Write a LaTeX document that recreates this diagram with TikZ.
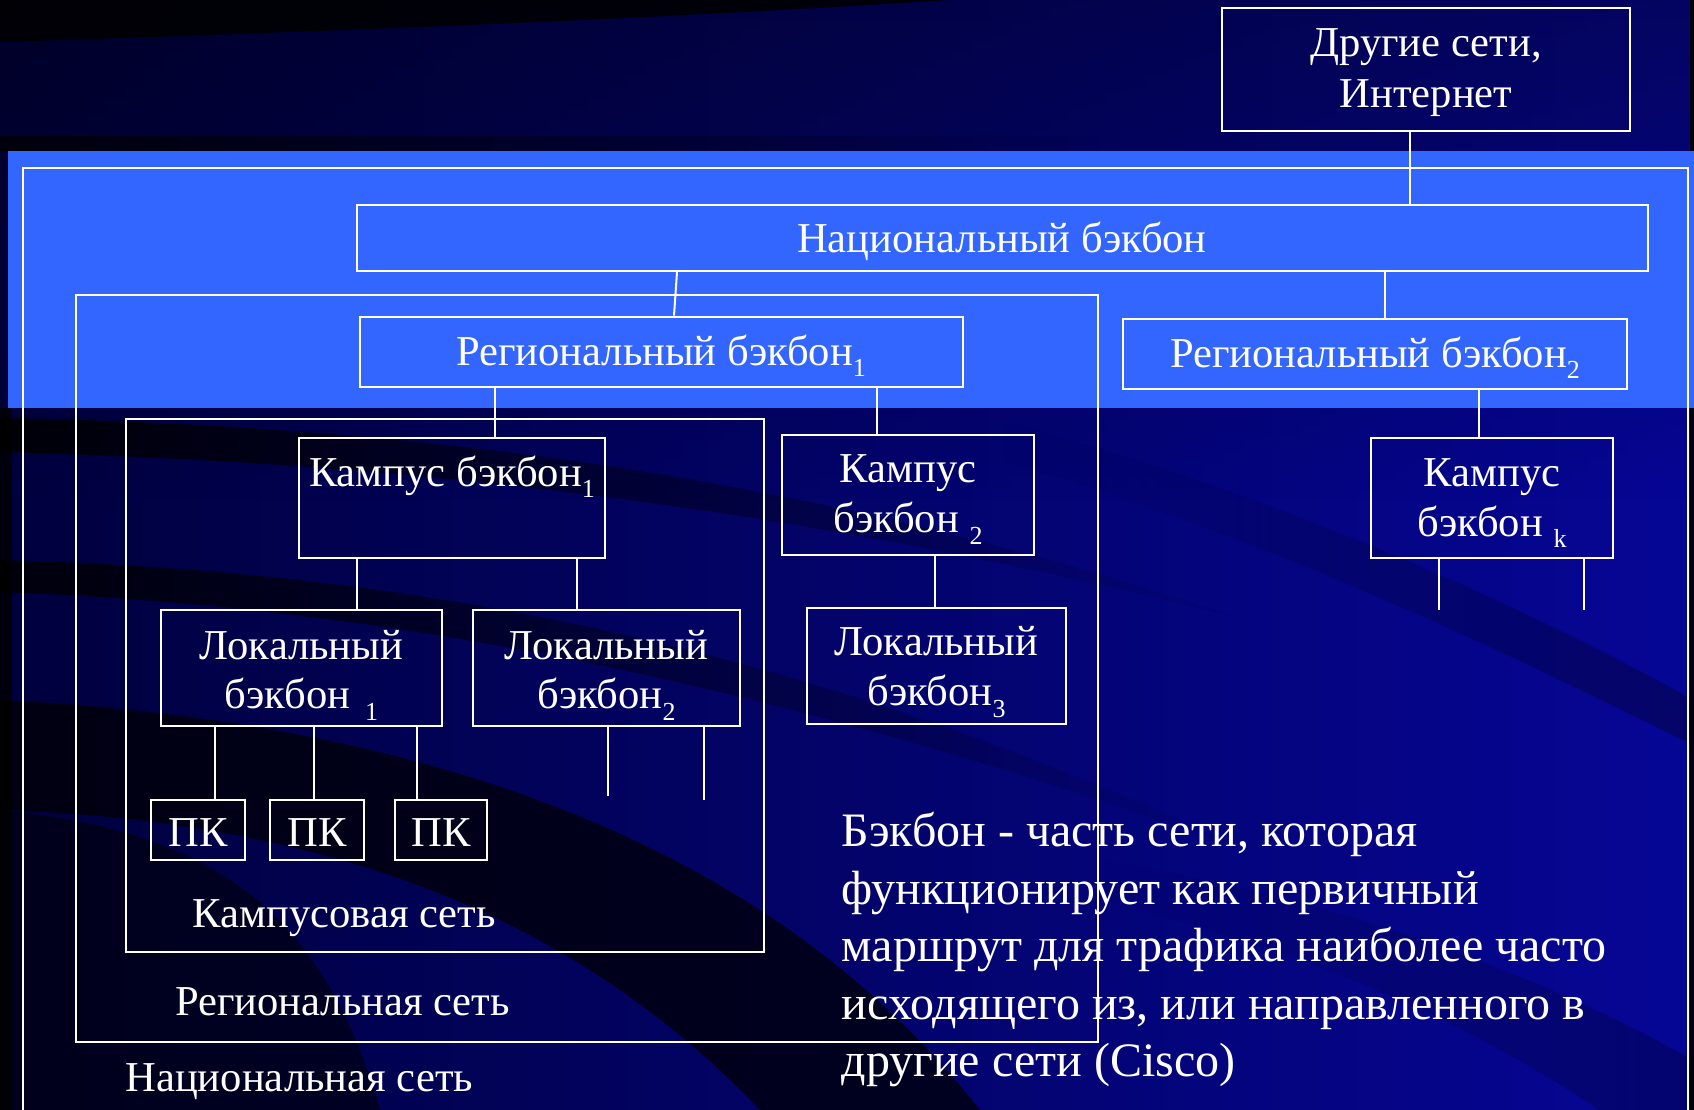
\documentclass[tikz,border=0pt]{standalone}
\usepackage{fontspec}
\setmainfont{Liberation Serif}
\usetikzlibrary{fadings}
\definecolor{bgdark}{RGB}{0,0,62}
\definecolor{bgright}{RGB}{6,6,150}
\definecolor{bandblue}{RGB}{51,102,255}
\newcommand\sbx[1]{\raisebox{-0.28em}{\fontsize{26}{26}\selectfont #1}}
\begin{document}
\begin{tikzpicture}[x=1pt,y=-1pt,
  box/.style={draw=white, line width=2pt, inner sep=0pt},
  cont/.style={draw=white, line width=2pt},
  conn/.style={draw=white, line width=2pt},
  txt/.style={text=white, inner sep=0pt, anchor=base, font=\fontsize{42.6}{48}\selectfont},
  lbl/.style={text=white, inner sep=0pt, anchor=base west, font=\fontsize{42.6}{48}\selectfont},
  para/.style={text=white, inner sep=0pt, anchor=base west, font=\fontsize{48}{57}\selectfont}]
% background
\useasboundingbox (0,0) rectangle (1694,1110);
\shade[left color=bgdark, right color=bgright] (0,0) rectangle (1694,1110);
\fill[black, opacity=0.35, path fading=south] (0,0) rectangle (1694,500);
\fill[black, opacity=0.85] (0,0) -- (950,0) .. controls (600,22) and (300,32) .. (0,42) -- cycle;
\fill[black, opacity=0.7, path fading=east] (0,136) rectangle (1100,151);
\fill[black, opacity=0.85, path fading=east] (0,418) .. controls (400,425) and (800,470) .. (1250,620)
   .. controls (800,505) and (400,462) .. (0,452) -- cycle;
\fill[black, opacity=0.8, path fading=east] (0,560) .. controls (400,570) and (800,640) .. (1250,850)
   .. controls (800,690) and (400,605) .. (0,592) -- cycle;
\fill[black, opacity=0.7] (0,700) .. controls (400,720) and (760,830) .. (980,1110)
   -- (760,1110) .. controls (560,900) and (300,820) .. (0,810) -- cycle;
\fill[black, opacity=0.55] (0,810) .. controls (200,830) and (320,900) .. (380,1110) -- (0,1110) -- cycle;
\fill[black, opacity=0.8] (0,408) rectangle (12,1110);
\fill[black, opacity=0.3, path fading=west] (1000,420) .. controls (1300,500) and (1550,620) .. (1694,700)
   -- (1694,745) .. controls (1520,660) and (1280,540) .. (1000,460) -- cycle;
\fill[black, opacity=0.25, path fading=west] (1100,860) .. controls (1350,900) and (1550,980) .. (1694,1060)
   -- (1694,1110) -- (1600,1110) .. controls (1450,1010) and (1300,950) .. (1100,900) -- cycle;
\fill[black, opacity=0.9] (1690,0) rectangle (1694,1110);
% light band
\fill[bandblue] (7.5,151) rectangle (1694,408);
% containers
\draw[cont] (22.7,1115) -- (22.7,168.5) -- (1687.6,168.5) -- (1687.6,1115);
\draw[cont] (75.6,295) rectangle (1097.7,1041.5);
\draw[cont] (126.4,419) rectangle (763.8,951.8);
% boxes
\node[box, minimum width=408pt, minimum height=123pt] (other) at (1426,70) {};
\node[box, minimum width=1291pt, minimum height=66pt] (nat) at (1002,238) {};
\node[box, minimum width=603pt, minimum height=70pt] (reg1) at (661,351.6) {};
\node[box, minimum width=504.5pt, minimum height=70pt] (reg2) at (1375,354) {};
\node[box, minimum width=306pt, minimum height=120pt] (camp1) at (452,497.5) {};
\node[box, minimum width=252pt, minimum height=120pt] (camp2) at (908,495) {};
\node[box, minimum width=242pt, minimum height=120pt] (campk) at (1492,497.5) {};
\node[box, minimum width=281pt, minimum height=116pt] (loc1) at (301.5,668) {};
\node[box, minimum width=267pt, minimum height=116pt] (loc2) at (606.5,668) {};
\node[box, minimum width=259pt, minimum height=116pt] (loc3) at (936.5,666) {};
\node[box, minimum width=94pt, minimum height=60pt] (pc1) at (198,830) {};
\node[box, minimum width=94pt, minimum height=60pt] (pc2) at (317,830) {};
\node[box, minimum width=92pt, minimum height=60pt] (pc3) at (441,830) {};
% box texts
\node[txt] (othera) at (1426,57) {Другие сети,};
\node[txt] (otherb) at (1426,108) {Интернет};
\node[txt] (natt) at (1002,252.3) {Национальный бэкбон};
\node[txt] (reg1t) at (661,365) {Региональный бэкбон\sbx{1}};
\node[txt] (reg2t) at (1375,367) {Региональный бэкбон\sbx{2}};
\node[txt] (camp1t) at (452,486) {Кампус бэкбон\sbx{1}};
\node[txt] (camp2a) at (908,482) {Кампус};
\node[txt] (camp2b) at (908,532.6) {бэкбон \sbx{2}};
\node[txt] (campka) at (1492,486) {Кампус};
\node[txt] (campkb) at (1492,536) {бэкбон \sbx{k}};
\node[txt] (loc1a) at (301.5,659) {Локальный};
\node[txt] (loc1b) at (301.5,708.7) {бэкбон\hspace{15pt}\sbx{1}};
\node[txt] (loc2a) at (606.5,659) {Локальный};
\node[txt] (loc2b) at (606.5,708.7) {бэкбон\sbx{2}};
\node[txt] (loc3a) at (936.5,655.7) {Локальный};
\node[txt] (loc3b) at (936.5,705.5) {бэкбон\sbx{3}};
\node[txt] (pc1t) at (198,846) {ПК};
\node[txt] (pc2t) at (317,846) {ПК};
\node[txt] (pc3t) at (441,846) {ПК};
% connectors
\coordinate (x1) at (1410,0);
\draw[conn] (other.south -| x1) -- (nat.north -| x1);
\draw[conn] ([xshift=-325pt]nat.south) -- ([xshift=13pt]reg1.north);
\coordinate (x2) at (1385,0);
\draw[conn] (nat.south -| x2) -- (reg2.north -| x2);
\coordinate (x3) at (494.8,0);
\draw[conn] (reg1.south -| x3) -- (camp1.north -| x3);
\coordinate (x4) at (877,0);
\draw[conn] (reg1.south -| x4) -- (camp2.north -| x4);
\coordinate (x5) at (1479,0);
\draw[conn] (reg2.south -| x5) -- (campk.north -| x5);
\coordinate (x6) at (356.5,0);
\draw[conn] (camp1.south -| x6) -- (loc1.north -| x6);
\coordinate (x7) at (577,0);
\draw[conn] (camp1.south -| x7) -- (loc2.north -| x7);
\coordinate (x8) at (934.5,0);
\draw[conn] (camp2.south -| x8) -- (loc3.north -| x8);
\coordinate (x9) at (215,0);
\draw[conn] (loc1.south -| x9) -- (pc1.north -| x9);
\coordinate (x10) at (314,0);
\draw[conn] (loc1.south -| x10) -- (pc2.north -| x10);
\coordinate (x11) at (417,0);
\draw[conn] (loc1.south -| x11) -- (pc3.north -| x11);
% dangling
\coordinate (d1) at (608,796);
\coordinate (d2) at (704,800);
\draw[conn] (loc2.south -| d1) -- (d1);
\draw[conn] (loc2.south -| d2) -- (d2);
\coordinate (d3) at (1439,610);
\coordinate (d4) at (1584,610);
\draw[conn] (campk.south -| d3) -- (d3);
\draw[conn] (campk.south -| d4) -- (d4);
% labels
\node[lbl] (campnet) at (192.3,927) {Кампусовая сеть};
\node[lbl] (regnet) at (175,1015.5) {Региональная сеть};
\node[lbl] (natnet) at (125.3,1091) {Национальная сеть};
\node[para] (p1) at (841.6,846.7) {Бэкбон - часть сети, которая};
\node[para] (p2) at (841.6,904.2) {функционирует как первичный};
\node[para] (p3) at (841.6,961.7) {маршрут для трафика наиболее часто};
\node[para] (p4) at (841.6,1019.2) {исходящего из, или направленного в};
\node[para] (p5) at (841.6,1076.7) {другие сети (Cisco)};
\end{tikzpicture}
\end{document}
